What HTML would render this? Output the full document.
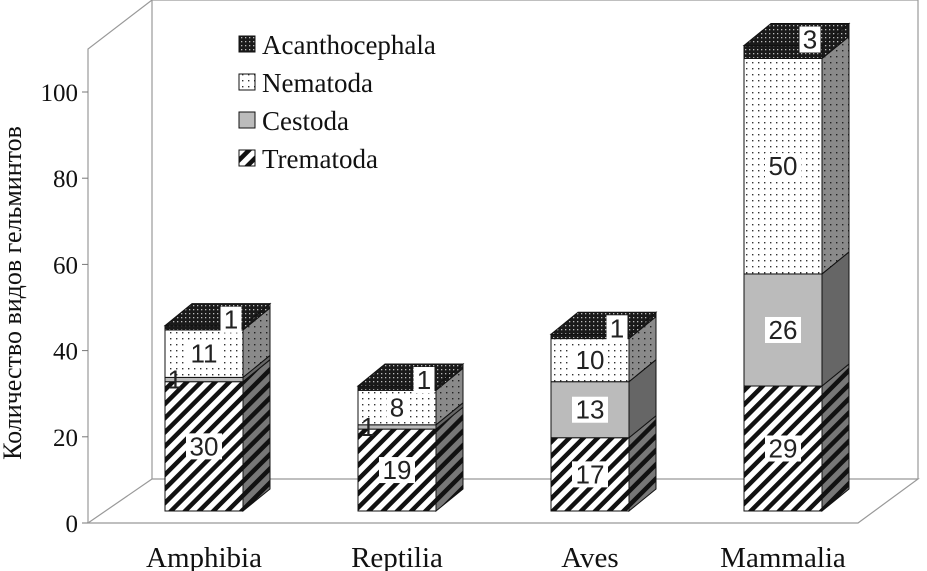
<!DOCTYPE html>
<html><head><meta charset="utf-8"><style>
html,body{margin:0;padding:0;background:#fff}
svg{display:block}
.ax{font-family:"Liberation Serif",serif;font-size:25px;fill:#111}
.lg{font-family:"Liberation Serif",serif;font-size:27px;fill:#111}
.cat{font-family:"Liberation Serif",serif;font-size:29px;fill:#111}
.lb{font-family:"Liberation Sans",sans-serif;font-size:26px;fill:#222}
</style></head><body>
<svg id="chart" width="927" height="571" viewBox="0 0 927 571">
<defs>
<pattern id="pTrem" width="10" height="10" patternUnits="userSpaceOnUse" patternTransform="rotate(45)">
<rect width="10" height="10" fill="#fff"/><rect width="4.5" height="10" fill="#111"/></pattern>
<pattern id="pTremS" width="10" height="10" patternUnits="userSpaceOnUse" patternTransform="rotate(45)">
<rect width="10" height="10" fill="#777"/><rect width="4.5" height="10" fill="#111"/></pattern>
<pattern id="pNem" width="6" height="6" patternUnits="userSpaceOnUse">
<rect width="6" height="6" fill="#fff"/><rect x="2" y="2" width="1.4" height="1.4" fill="#333"/></pattern>
<pattern id="pNemS" width="6" height="6" patternUnits="userSpaceOnUse">
<rect width="6" height="6" fill="#8a8a8a"/><rect x="2" y="2" width="1.4" height="1.4" fill="#222"/></pattern>
<pattern id="pAc" width="4" height="4" patternUnits="userSpaceOnUse">
<rect width="4" height="4" fill="#1a1a1a"/><rect x="1" y="1" width="1.3" height="1.3" fill="#bbb"/></pattern>
</defs>
<g>
<polyline points="88,523 88,49 152,0 918,0 918,479" fill="none" stroke="#999" stroke-width="1.2"/>
<line x1="152" y1="0" x2="152" y2="479" stroke="#999" stroke-width="1.2"/>
<polyline points="88,523 152,479 918,479 858,523 88,523" fill="none" stroke="#999" stroke-width="1.2"/>
</g>
<g id="axis"></g>
<g id="bars"></g>
<text class="ax" style="font-size:26px" transform="translate(21,293) rotate(-90)" text-anchor="middle">Количество видов гельминтов</text>
<g class="lg">
<g><rect x="239" y="36" width="16" height="16" fill="url(#pAc)" stroke="#111"/><text x="262" y="54">Acanthocephala</text></g>
<g><rect x="239" y="74" width="16" height="16" fill="url(#pNem)" stroke="#111"/><text x="262" y="92">Nematoda</text></g>
<g><rect x="239" y="112" width="16" height="16" fill="#bbb" stroke="#111"/><text x="262" y="130">Cestoda</text></g>
<g><rect x="239" y="150" width="16" height="16" fill="url(#pTrem)" stroke="#111"/><text x="262" y="168">Trematoda</text></g>
</g>
</svg>
<script>
const categories=["Amphibia","Reptilia","Aves","Mammalia"];
const trematoda=[30,19,17,29];
const cestoda=[1,1,13,26];
const nematoda=[11,8,10,50];
const acanthocephala=[1,1,1,3];
const yTicks=[0,20,40,60,80,100];
const NS="http://www.w3.org/2000/svg";
const y0=511, axisY0=523, ppu=4.31, dx=27, dy=-22;
const ya=v=>axisY0-v*ppu;
const yb=v=>y0-v*ppu;
const xb=i=>165+i*193;
const bw=78;
function el(t,a,p){const e=document.createElementNS(NS,t);for(const k in a)e.setAttribute(k,a[k]);p.appendChild(e);return e;}
const axis=document.getElementById('axis');
yTicks.forEach(v=>{
 const l=el('line',{x1:82,x2:88,y1:ya(v),y2:ya(v),stroke:'#777'},axis);
 
 
 const t=el('text',{x:78,y:ya(v)+9,'text-anchor':'end',class:'ax'},axis);
 t.textContent=v;
 
 
});
const bars=document.getElementById('bars');
const series=[
 {n:'trematoda',d:trematoda,f:'url(#pTrem)',s:'url(#pTremS)'},
 {n:'cestoda',d:cestoda,f:'#bbb',s:'#666'},
 {n:'nematoda',d:nematoda,f:'url(#pNem)',s:'url(#pNemS)'},
 {n:'acanthocephala',d:acanthocephala,f:'url(#pAc)',s:'url(#pAc)'}];
categories.forEach((c,i)=>{
 const g=el('g',{},bars);
 
 
 let cum=0;const x=xb(i);
 series.forEach((s,k)=>{
  const v=s.d[i];const top=yb(cum+v), bot=yb(cum);
  const r=el('rect',{x:x,y:top,width:bw,height:bot-top,fill:s.f,stroke:'#111','stroke-width':1},g);
  
  
  const sd=el('polygon',{points:`${x+bw},${bot} ${x+bw+dx},${bot+dy} ${x+bw+dx},${top+dy} ${x+bw},${top}`,fill:s.s,stroke:'#111','stroke-width':1},g);
  
  
  cum+=v;
 });
 const tp=yb(cum);
 const tf=el('polygon',{points:`${x},${tp} ${x+dx},${tp+dy} ${x+bw+dx},${tp+dy} ${x+bw},${tp}`,fill:'url(#pAc)',stroke:'#111'},g);
 
 
 cum=0;
 series.forEach((s,k)=>{
  const v=s.d[i];const mid=(yb(cum)+yb(cum+v))/2;cum+=v;
  let cy=mid, cx=x+bw/2;
  if(v<=3&&k==3){cy=yb(cum)-6;cx=x+bw-12;}
  else if(v<=3){cx=x+10;}
  const w=String(v).length*15+6;
  if(v>3||k==3){const bg=el('rect',{x:cx-w/2,y:cy-13,width:w,height:26,fill:'#fff'},g);
   }
  const t=el('text',{x:cx,y:cy+9,'text-anchor':'middle',class:'lb'},g);
  t.textContent=v;
  
  
 });
 const cl=el('text',{x:x+bw/2,y:567,'text-anchor':'middle',class:'cat'},g);
 cl.textContent=c;
 
 
});
</script>
</body></html>
